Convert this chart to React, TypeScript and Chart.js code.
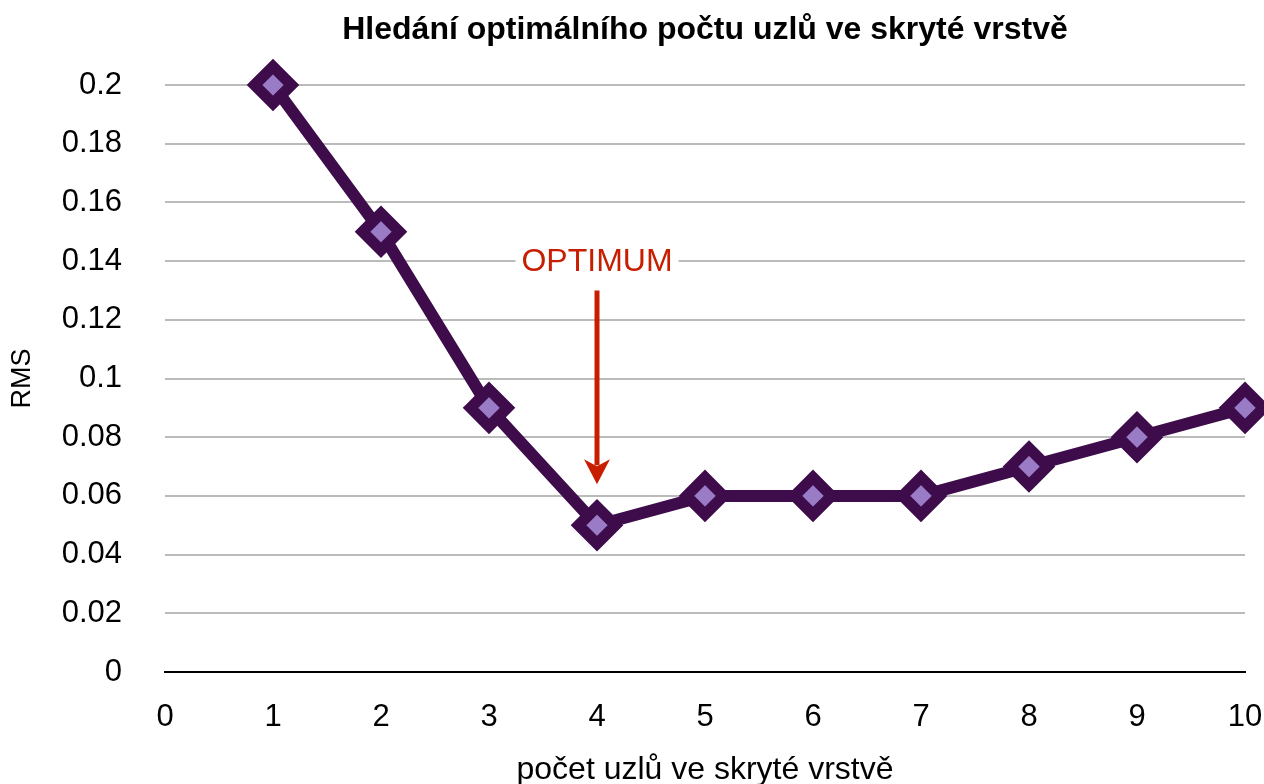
import React, { useEffect, useRef } from "react";
import { Chart, registerables } from "chart.js";

Chart.register(...registerables);

const nodeCounts = [1, 2, 3, 4, 5, 6, 7, 8, 9, 10];
const rmsValues = [0.2, 0.15, 0.09, 0.05, 0.06, 0.06, 0.06, 0.07, 0.08, 0.09];

const chartTitle = "Hledání optimálního počtu uzlů ve skryté vrstvě";
const xTitle = "počet uzlů ve skryté vrstvě";
const yTitle = "RMS";

const annotationText = "OPTIMUM";
const annotationX = 4;
const annotationLabelY = 0.14;
const arrowTopY = 0.13;
const arrowTipY = 0.064;

const FONT = '"Liberation Sans", Arial, Helvetica, sans-serif';
const LINE_COLOR = "#3e0c4b";
const FILL_COLOR = "#9a7bc6";
const RED = "#c81e00";

const miterPlugin = {
  id: "miterJoin",
  beforeDatasetsDraw(chart: any) {
    chart.ctx.lineJoin = "miter";
    chart.ctx.miterLimit = 10;
  },
};

const titlePlugin = {
  id: "areaTitle",
  afterDraw(chart: any) {
    const { ctx, chartArea } = chart;
    ctx.save();
    ctx.font = `bold 32px ${FONT}`;
    ctx.fillStyle = "#000";
    ctx.textAlign = "center";
    ctx.textBaseline = "middle";
    ctx.fillText(chartTitle, (chartArea.left + chartArea.right) / 2, 30);
    ctx.restore();
  },
};

const annotationPlugin = {
  id: "optimumAnnotation",
  afterDraw(chart: any) {
    const { ctx, scales } = chart;
    const xs = scales.x;
    const ys = scales.y;
    const px = xs.getPixelForValue(annotationX);
    const ty = ys.getPixelForValue(annotationLabelY);
    const y0 = ys.getPixelForValue(arrowTopY);
    const y1 = ys.getPixelForValue(arrowTipY);
    ctx.save();
    ctx.font = `32px ${FONT}`;
    const w = ctx.measureText(annotationText).width;
    ctx.fillStyle = "#ffffff";
    ctx.fillRect(px - w / 2 - 6, ty - 16, w + 12, 32);
    ctx.fillStyle = RED;
    ctx.textAlign = "center";
    ctx.textBaseline = "middle";
    ctx.fillText(annotationText, px, ty + 1);
    const headH = 25;
    const headW = 26;
    ctx.strokeStyle = RED;
    ctx.lineWidth = 5;
    ctx.beginPath();
    ctx.moveTo(px, y0);
    ctx.lineTo(px, y1 - headH + 6);
    ctx.stroke();
    ctx.beginPath();
    ctx.moveTo(px, y1);
    ctx.lineTo(px - headW / 2, y1 - headH);
    ctx.lineTo(px, y1 - headH + 7);
    ctx.lineTo(px + headW / 2, y1 - headH);
    ctx.closePath();
    ctx.fillStyle = RED;
    ctx.fill();
    ctx.restore();
  },
};

export default function App() {
  const ref = useRef<HTMLCanvasElement | null>(null);
  useEffect(() => {
    if (!ref.current) return;
    const chart = new Chart(ref.current, {
      type: "line",
      data: {
        datasets: [
          {
            data: nodeCounts.map((x, i) => ({ x, y: rmsValues[i] })),
            borderColor: LINE_COLOR,
            borderWidth: 12,
            pointStyle: "rectRot",
            pointRadius: 18.5,
            pointHoverRadius: 18.5,
            pointBorderWidth: 11,
            pointBorderColor: LINE_COLOR,
            pointBackgroundColor: FILL_COLOR,
            clip: false as any,
            tension: 0,
          },
        ],
      },
      options: {
        responsive: true,
        maintainAspectRatio: false,
        animation: false,
        layout: { autoPadding: false, padding: { left: 0, right: 19, top: 85, bottom: 0 } },
        plugins: {
          legend: { display: false },
          tooltip: { enabled: false },
          title: { display: false },
        },
        scales: {
          x: {
            type: "linear",
            min: 0,
            max: 10,
            ticks: {
              stepSize: 1,
              color: "#000",
              font: { family: FONT, size: 31 },
              padding: 27,
              maxRotation: 0,
            },
            grid: { display: false, drawTicks: false },
            border: { display: true, color: "#000", width: 2 },
            title: {
              display: true,
              text: xTitle,
              color: "#000",
              font: { family: FONT, size: 32 },
              padding: { top: 0, bottom: -5 },
            },
            afterFit(scale: any) {
              scale.height = 112;
              scale.paddingRight = 0;
              scale.paddingLeft = 0;
            },
          },
          y: {
            min: 0,
            max: 0.2,
            ticks: {
              stepSize: 0.02,
              color: "#000",
              font: { family: FONT, size: 31 },
              padding: 43,
              callback: (v: any) => String(Number(Number(v).toFixed(2))),
            },
            grid: { color: "#bbbbbb", lineWidth: 2, drawTicks: false },
            border: { display: false },
            title: {
              display: true,
              text: yTitle,
              color: "#000",
              font: { family: FONT, size: 27 },
              padding: { top: 6, bottom: 0 },
            },
            afterFit(scale: any) {
              scale.width = 165;
              scale.paddingTop = 0;
              scale.paddingBottom = 0;
            },
          },
        },
      },
      plugins: [miterPlugin, titlePlugin, annotationPlugin],
    });
    return () => chart.destroy();
  }, []);
  return (
    <div style={{ position: "fixed", left: 0, top: 0, width: 1264, height: 784 }}>
      <canvas ref={ref} />
    </div>
  );
}
